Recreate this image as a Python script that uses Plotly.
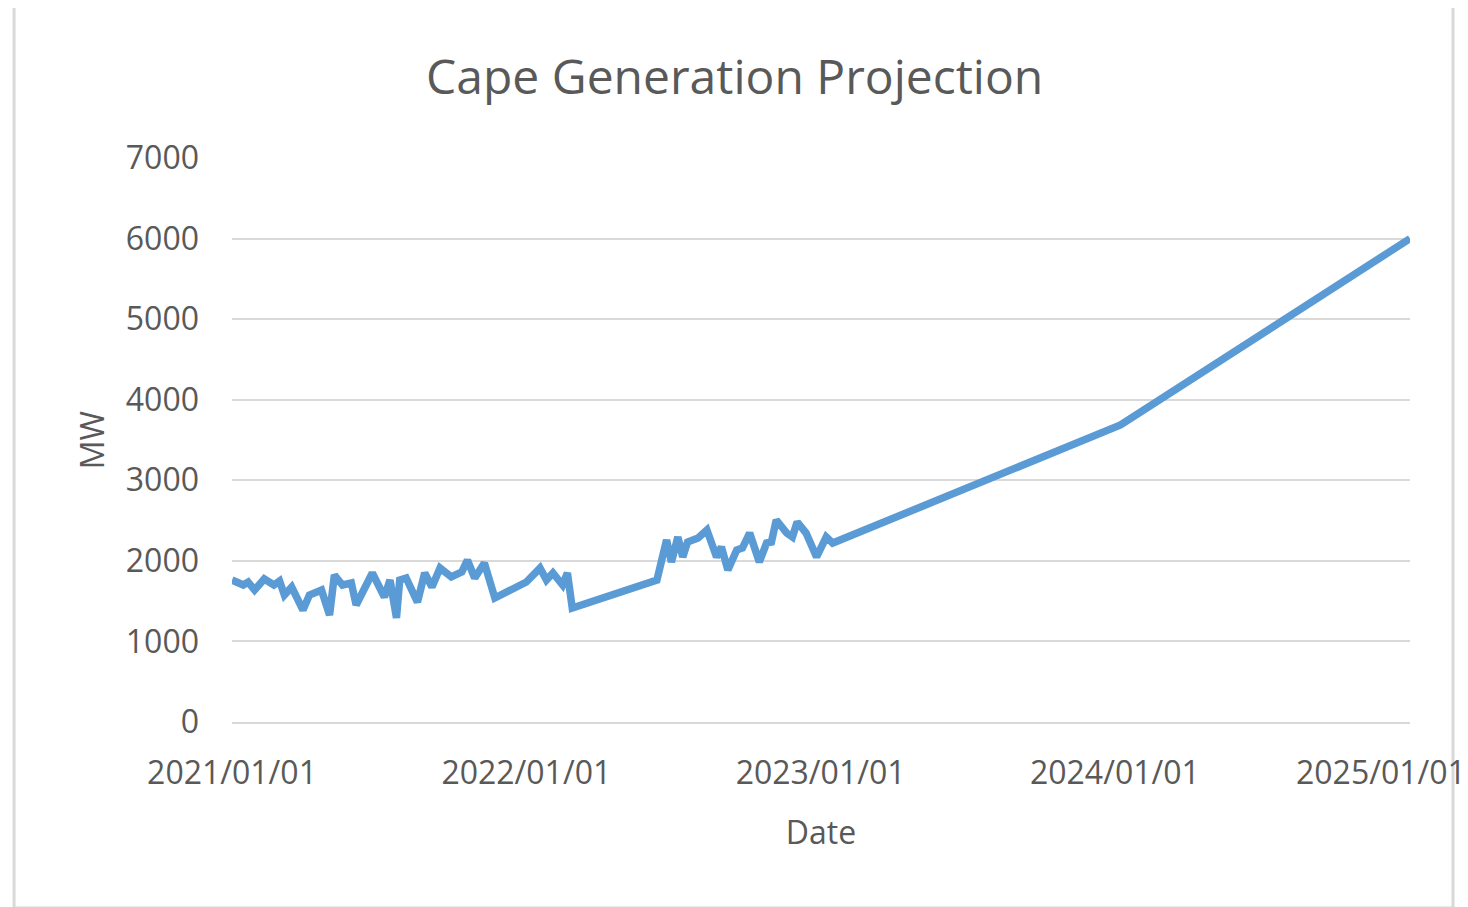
import plotly.graph_objects as go

dates = [
    "2021-01-01", "2021-01-08", "2021-01-15", "2021-01-21", "2021-01-29", "2021-02-10",
    "2021-02-22", "2021-03-01", "2021-03-07", "2021-03-16", "2021-03-30", "2021-04-07",
    "2021-04-22", "2021-05-02", "2021-05-08", "2021-05-18", "2021-05-29", "2021-06-04",
    "2021-06-24", "2021-07-09", "2021-07-16", "2021-07-24", "2021-07-28", "2021-08-05",
    "2021-08-19", "2021-08-28", "2021-09-06", "2021-09-16", "2021-09-30", "2021-10-13",
    "2021-10-20", "2021-10-29", "2021-11-10", "2021-11-23", "2022-01-01", "2022-01-18",
    "2022-01-26", "2022-02-03", "2022-02-15", "2022-02-21", "2022-02-27", "2022-06-12",
    "2022-06-24", "2022-06-30", "2022-07-08", "2022-07-14", "2022-07-20", "2022-08-02",
    "2022-08-13", "2022-08-25", "2022-08-31", "2022-09-08", "2022-09-19", "2022-09-26",
    "2022-10-05", "2022-10-17", "2022-10-26", "2022-11-01", "2022-11-07", "2022-11-20",
    "2022-11-27", "2022-12-03", "2022-12-14", "2022-12-27", "2023-01-08", "2023-01-16",
    "2024-01-08", "2025-01-01",
]
mw = [
    1762, 1737, 1700, 1737, 1638, 1775,
    1700, 1750, 1576, 1675, 1390, 1576,
    1638, 1328, 1824, 1700, 1725, 1452,
    1849, 1551, 1762, 1291, 1762, 1787,
    1489, 1849, 1675, 1911, 1800, 1862,
    2010, 1787, 1973, 1539, 1737, 1911,
    1762, 1849, 1700, 1849, 1415, 1762,
    2259, 1986, 2296, 2048, 2234, 2283,
    2383, 2048, 2172, 1886, 2135, 2159,
    2345, 1986, 2221, 2234, 2507, 2345,
    2296, 2482, 2345, 2048, 2296, 2221,
    3686, 6000,
]

x_ticks = ["2021-01-01", "2022-01-01", "2023-01-01", "2024-01-01", "2025-01-01"]
x_tick_labels = ["2021/01/01", "2022/01/01", "2023/01/01", "2024/01/01", "2025/01/01"]
y_ticks = [0, 1000, 2000, 3000, 4000, 5000, 6000, 7000]

FONT = "Open Sans"
TXT = "#595959"
GRID = "#D9D9D9"

fig = go.Figure()
fig.add_trace(go.Scatter(
    x=dates, y=mw, mode="lines",
    line=dict(color="#5B9BD5", width=7.5, shape="linear"),
    showlegend=False, hoverinfo="x+y",
))

fig.update_layout(
    width=1468, height=907,
    margin=dict(l=224, r=66, t=150, b=193),
    paper_bgcolor="white", plot_bgcolor="white",
    font=dict(family=FONT, color=TXT),
    title=dict(text="Cape Generation Projection", x=0.495, xref="container", xanchor="center",
               y=0.924, yref="container", yanchor="middle",
               font=dict(family=FONT, size=48, color=TXT)),
    xaxis=dict(
        type="date", range=["2021-01-01", "2025-01-01"],
        tickvals=x_ticks[:-1], ticktext=x_tick_labels[:-1],
        tickfont=dict(family=FONT, size=32, color=TXT),
        showgrid=False, zeroline=False,
        showline=True, linecolor=GRID, linewidth=2,
        ticks="", ticklabelstandoff=22,
        title=dict(text="Date", font=dict(family=FONT, size=32, color=TXT), standoff=29),
    ),
    yaxis=dict(
        range=[0, 7000], tickvals=y_ticks,
        tickfont=dict(family=FONT, size=32, color=TXT),
        showgrid=True, gridcolor=GRID, gridwidth=2,
        zeroline=False, showline=False, ticks="", ticklabelstandoff=32,
        title=dict(text="MW", font=dict(family=FONT, size=32, color=TXT), standoff=11),
    ),
)

# last x tick label, nudged left so it stays inside the chart area
fig.add_annotation(x=x_ticks[-1], y=0, xref="x", yref="paper",
                   text=x_tick_labels[-1], showarrow=False,
                   xanchor="right", yanchor="top", yshift=-26, xshift=58,
                   font=dict(family=FONT, size=32, color=TXT))

# chart-area border
fig.add_shape(type="rect", xref="paper", yref="paper",
              x0=-0.185, x1=1.0365, y0=-0.33, y1=1.273,
              line=dict(color=GRID, width=3), fillcolor="rgba(0,0,0,0)", layer="below")

fig.write_html("out.html")
